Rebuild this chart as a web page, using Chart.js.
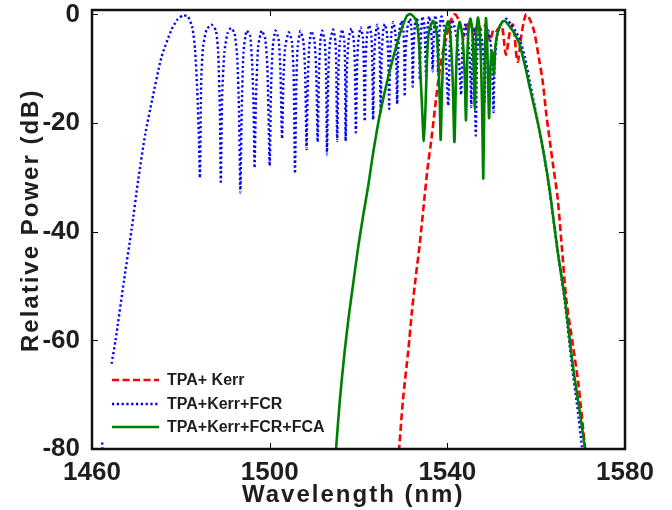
<!DOCTYPE html>
<html>
<head>
<meta charset="utf-8">
<script src="https://cdn.jsdelivr.net/npm/chart.js@4.4.1/dist/chart.umd.min.js"></script>
<style>
  html, body { margin: 0; padding: 0; background: #fff; }
  canvas { display: block; }
</style>
</head>
<body>
<canvas id="spectrumChart" width="672" height="510"></canvas>
<script>
// ticks
const xTicks = [1460, 1500, 1540, 1580];
const yTicks = [-80, -60, -40, -20, 0];

// TPA+ Kerr (red dashed)
const redWl = [1529.1, 1530.0, 1531.2, 1532.0, 1532.7, 1533.8, 1534.8, 1535.6, 1536.4, 1537.4, 1538.3, 1539.1,
  1539.8, 1540.6, 1541.3, 1541.7, 1542.3, 1543.0, 1543.7, 1544.4, 1545.2, 1546.0, 1546.8, 1547.7, 1548.6,
  1549.6, 1550.4, 1551.0, 1551.6, 1552.3, 1553.2, 1554.1, 1554.8, 1555.8, 1556.7, 1557.7, 1558.6, 1559.5,
  1560.6, 1561.5, 1562.3, 1563.8, 1564.8, 1565.8, 1566.8, 1568.2, 1569.5, 1571.0, 1571.2];
const redPow = [-80.5, -71.1, -61.9, -55, -49.6, -42.2, -34.2, -28, -23.1, -16, -10.2, -6.5,
  -4.1, -1.5, -0.4, 0, -0.6, -2.5, -4, -2, -1.5, -3.5, -1.8, -2.8, -2,
  -4.8, -2.8, -3, -2.5, -2.2, -7.4, -3.1, -1.9, -8.7, -3.7, 0, -1, -3,
  -8, -12.5, -18.5, -27.7, -33.6, -43, -52.6, -60.5, -68, -79.7, -81];

// TPA+Kerr+FCR (blue dotted), null = break
const blueWl = [1462.3, 1462.4, null,
  1464.4, 1465.3, 1467.2, 1468.9, 1470.4, 1472.0, 1473.6, 1475.6, 1477.9, 1479.3, 1480.5, 1481.6, 1482.6,
  1483.2, 1483.7, 1484.1, 1484.3, 1484.6, 1485.0, 1485.8, 1486.9, 1487.9, 1488.4, 1488.8, 1489.0, 1489.3,
  1489.8, 1490.5, 1491.3, 1492.1, 1492.7, 1493.1, 1493.4, 1493.7, 1494.1, 1494.8, 1495.6, 1496.1, 1496.4,
  1496.6, 1496.9, 1497.4, 1498.2, 1499.0, 1499.5, 1500.0, 1500.3, 1500.7, 1501.3, 1502.0, 1502.4, 1502.8,
  1503.1, 1503.5, 1504.3, 1505.0, 1505.4, 1505.7, 1506.0, 1506.3, 1506.9, 1507.6, 1508.0, 1508.3, 1508.6,
  1508.9, 1509.4, 1510.1, 1510.5, 1510.8, 1511.1, 1511.4, 1511.8, 1512.4, 1512.7, 1512.9, 1513.2, 1513.6,
  1514.3, 1514.8, 1515.0, 1515.2, 1515.5, 1515.8, 1516.3, 1516.8, 1517.0, 1517.1, 1517.4, 1517.8, 1518.4,
  1518.9, 1519.2, 1519.4, 1519.7, 1520.0, 1520.5, 1521.0, 1521.2, 1521.4, 1521.6, 1521.9, 1522.4, 1522.9,
  1523.1, 1523.3, 1523.5, 1523.8, 1524.2, 1524.6, 1524.8, 1525.0, 1525.2, 1525.5, 1525.9, 1526.4, 1526.7,
  1526.9, 1527.1, 1527.4, 1527.8, 1528.3, 1528.5, 1528.7, 1528.9, 1529.2, 1529.7, 1530.1, 1530.3, 1530.4,
  1530.6, 1531.0, 1531.6, 1531.9, 1532.1, 1532.2, 1532.4, 1532.7, 1533.1, 1533.5, 1533.7, 1533.8, 1534.0,
  1534.2, 1534.4, 1534.8, 1535.0, 1535.2, 1535.4, 1535.6, 1535.9, 1536.3, 1536.5, 1536.7, 1536.9, 1537.1,
  1537.3, 1537.6, 1537.8, 1537.9, 1538.1, 1538.4, 1538.7, 1539.2, 1539.6, 1540.2, 1540.6, 1541.1, 1541.8,
  1542.5, 1543.1, 1543.4, 1544.0, 1544.6, 1545.1, 1545.4, 1545.6, 1545.9, 1546.1, 1546.4, 1546.7, 1547.2,
  1547.8, 1548.2, 1548.4, 1548.7, 1549.2, 1549.7, 1550.1, 1550.4, 1550.6, 1551.2, 1552.0, 1553.2, 1554.3,
  1555.3, 1556.3, 1557.5, 1558.6, 1559.7, 1560.8, 1562.0, 1563.1, 1564.8, 1566.4, 1568.1, 1569.3, 1570.3,
  1570.6];
const bluePow = [-78.8, -81, null,
  -64.3, -60.0, -49.0, -39.7, -30.5, -22.0, -15.5, -8.0, -2.8, -0.9, -0.2, -0.4, -2.5,
  -6.5, -14, -24, -30.1, -12, -6, -2.8, -1.9, -3.0, -7, -18, -30.8, -15,
  -7, -3.5, -2.5, -3.5, -8, -18, -32.8, -18, -7, -3.0, -4, -10, -18,
  -28.3, -16, -6, -3.0, -4.5, -10, -27.9, -14, -6, -3.0, -4.5, -10, -22.9,
  -12, -6, -3.3, -5, -11, -29.3, -13, -6, -3.1, -5, -11, -24.8, -12,
  -6, -3.1, -5, -11, -23.5, -11, -5, -3.0, -5, -11, -25.8, -11, -5,
  -2.8, -5, -10, -23.3, -10, -5, -2.8, -5, -10, -23.3, -10, -4.5, -2.6,
  -4.5, -10, -21.7, -9, -4.5, -2.4, -4.5, -9, -19.7, -9, -4, -2.0, -4,
  -9, -19.4, -9, -4, -1.9, -4, -8, -18.2, -8, -3.5, -1.8, -3.5, -8,
  -17.4, -8, -3.5, -1.4, -3.5, -7.5, -16.5, -7.5, -3, -1.2, -3, -7, -15.1,
  -7, -2.5, -0.8, -2.5, -6.5, -13.3, -6, -2, -0.55, -2.5, -6, -12.0, -5.5,
  -2, -0.4, -2, -5.5, -11.3, -5, -2, -0.4, -2, -5, -10.5, -5, -1.5,
  -0.2, -2, -5.5, -11.1, -5, -1.5, -0.4, -2, -6, -16.8, -5, -1.0, -3,
  -7, -14.8, -6, -1.9, -4, -9, -17, -6, -2.5, -8, -22.3, -8, -2.5,
  -5, -9, -16.1, -6, -3, -5, -9, -18.0, -10, -4, -1.8, -0.8, -1.8,
  -3, -4.6, -8, -12.6, -17, -21.7, -27, -33, -43.4, -52.6, -65, -72.5, -79.5,
  -81];

// TPA+Kerr+FCR+FCA (green solid)
const greenWl = [1514.9, 1515.8, 1516.9, 1517.9, 1518.8, 1519.9, 1521.0, 1522.2, 1523.3, 1524.8, 1527.0, 1529.3,
  1530.8, 1531.6, 1532.5, 1533.1, 1533.6, 1533.9, 1534.3, 1534.7, 1535.1, 1535.4, 1535.8, 1536.8, 1537.6,
  1538.0, 1538.3, 1538.5, 1538.8, 1539.2, 1539.7, 1540.2, 1540.7, 1541.2, 1541.6, 1542.0, 1542.4, 1542.8,
  1543.4, 1543.9, 1544.2, 1544.5, 1544.8, 1545.2, 1545.7, 1546.2, 1546.5, 1546.9, 1547.4, 1547.8, 1548.1,
  1548.4, 1548.7, 1549.0, 1549.4, 1549.7, 1550.0, 1550.3, 1550.5, 1550.8, 1551.4, 1552.2, 1552.9, 1553.8,
  1554.8, 1555.6, 1556.3, 1557.5, 1558.6, 1559.7, 1560.8, 1562.0, 1563.1, 1564.8, 1566.5, 1568.3, 1569.7,
  1571.1];
const greenPow = [-80.5, -71, -61.9, -55, -49.6, -43, -37.3, -31.5, -25.5, -18.5, -10.5, -3.7,
  -0.4, 0.05, -0.5, -1.5, -5, -10, -17, -23.3, -16.7, -9, -3.5, -1.2, -3.5,
  -9, -16, -23.1, -14, -6, -2.5, -1.3, -4, -12, -23.5, -10, -3, -1.4,
  -4, -11, -19.5, -8, -2.5, -0.8, -4, -17.5, -4, -0.6, -5, -16, -30.2,
  -10, -0.7, -6, -19.1, -10, -6.8, -8, -11.1, -6, -3.1, -1.6, -1.2, -2,
  -3.1, -4.3, -5.6, -9.5, -13.6, -17.5, -21.6, -27, -32.7, -43.4, -52.6, -64.9, -72.5,
  -80.5];

const seriesNames = ['TPA+ Kerr', 'TPA+Kerr+FCR', 'TPA+Kerr+FCR+FCA'];

function toPoints(xs, ys) {
  return xs.map((x, i) => (x === null ? { x: NaN, y: null } : { x: x, y: ys[i] }));
}

const tickFont = { family: "'Liberation Sans', Arial, Helvetica, sans-serif", size: 26, weight: 'bold' };
const textColor = '#1e1e1e';

// ticks pointing inward on all four sides + black box, titles, legend
const boxPlugin = {
  id: 'boxPlugin',
  afterDatasetsDraw(chart) {
    const { ctx, chartArea: a, scales } = chart;
    ctx.save();
    ctx.strokeStyle = '#000';
    ctx.lineWidth = 1;
    xTicks.forEach(v => {
      const px = Math.round(scales.x.getPixelForValue(v)) + 0.5;
      ctx.beginPath();
      ctx.moveTo(px, a.bottom); ctx.lineTo(px, a.bottom - 6);
      ctx.moveTo(px, a.top); ctx.lineTo(px, a.top + 6);
      ctx.stroke();
    });
    yTicks.forEach(v => {
      const py = Math.round(scales.y.getPixelForValue(v)) + 0.5;
      ctx.beginPath();
      ctx.moveTo(a.left, py); ctx.lineTo(a.left + 6, py);
      ctx.moveTo(a.right, py); ctx.lineTo(a.right - 6, py);
      ctx.stroke();
    });
    ctx.lineWidth = 2.5;
    ctx.strokeStyle = '#111';
    ctx.strokeRect(a.left, a.top, a.right - a.left, a.bottom - a.top);
    ctx.restore();
  },
  afterDraw(chart) {
    const { ctx } = chart;
    ctx.save();
    ctx.fillStyle = textColor;
    ctx.font = "bold 24px 'Liberation Sans', Arial, sans-serif";
    ctx.letterSpacing = '2px';
    ctx.textBaseline = 'alphabetic';
    ctx.textAlign = 'left';
    ctx.fillText('Wavelength (nm)', 242, 502);
    ctx.translate(38, 352);
    ctx.rotate(-Math.PI / 2);
    ctx.fillText('Relative Power (dB)', 0, 0);
    ctx.restore();

    ctx.save();
    const rows = [380, 404, 427];
    chart.data.datasets.forEach((ds, i) => {
      const y = rows[i];
      ctx.beginPath();
      ctx.strokeStyle = ds.borderColor;
      ctx.lineWidth = ds.borderWidth;
      ctx.setLineDash(ds.borderDash || []);
      ctx.moveTo(112, y); ctx.lineTo(159, y);
      ctx.stroke();
      ctx.setLineDash([]);
      ctx.fillStyle = textColor;
      ctx.font = "bold 16px 'Liberation Sans', Arial, sans-serif";
      ctx.textBaseline = 'middle';
      ctx.fillText(ds.label, 167, y + 1);
    });
    ctx.restore();
  }
};

new Chart(document.getElementById('spectrumChart'), {
  type: 'scatter',
  data: {
    datasets: [
      {
        label: seriesNames[0],
        data: toPoints(redWl, redPow),
        showLine: true,
        borderColor: '#ff0000',
        borderWidth: 2.6,
        borderDash: [7, 3.5],
        pointRadius: 0,
        tension: 0.3,
        order: 3
      },
      {
        label: seriesNames[1],
        data: toPoints(blueWl, bluePow),
        showLine: true,
        spanGaps: false,
        borderColor: '#0000ff',
        borderWidth: 2.4,
        borderDash: [2.2, 2.6],
        pointRadius: 0,
        tension: 0.2,
        order: 2
      },
      {
        label: seriesNames[2],
        data: toPoints(greenWl, greenPow),
        showLine: true,
        borderColor: '#008000',
        borderWidth: 2.6,
        pointRadius: 0,
        tension: 0.25,
        order: 1
      }
    ]
  },
  options: {
    responsive: false,
    animation: false,
    devicePixelRatio: 1,
    layout: { padding: { left: 0, top: 10, right: 47, bottom: 0 } },
    plugins: {
      legend: { display: false },
      tooltip: { enabled: false }
    },
    scales: {
      x: {
        type: 'linear',
        min: 1460,
        max: 1580,
        afterFit(scale) {
          scale.height = 61;
          scale.paddingLeft = 0;
          scale.paddingRight = 0;
        },
        afterBuildTicks(scale) { scale.ticks = xTicks.map(v => ({ value: v })); },
        grid: { display: false },
        border: { display: false },
        ticks: { color: textColor, font: tickFont, padding: 0, maxRotation: 0, callback: v => String(v) }
      },
      y: {
        type: 'linear',
        min: -80,
        max: 0.8,
        afterFit(scale) {
          scale.width = 92;
          scale.paddingTop = 0;
          scale.paddingBottom = 0;
        },
        afterBuildTicks(scale) { scale.ticks = yTicks.map(v => ({ value: v })); },
        grid: { display: false },
        border: { display: false },
        ticks: { color: textColor, font: tickFont, padding: 4, callback: v => String(v) }
      }
    }
  },
  plugins: [boxPlugin]
});
</script>
</body>
</html>
